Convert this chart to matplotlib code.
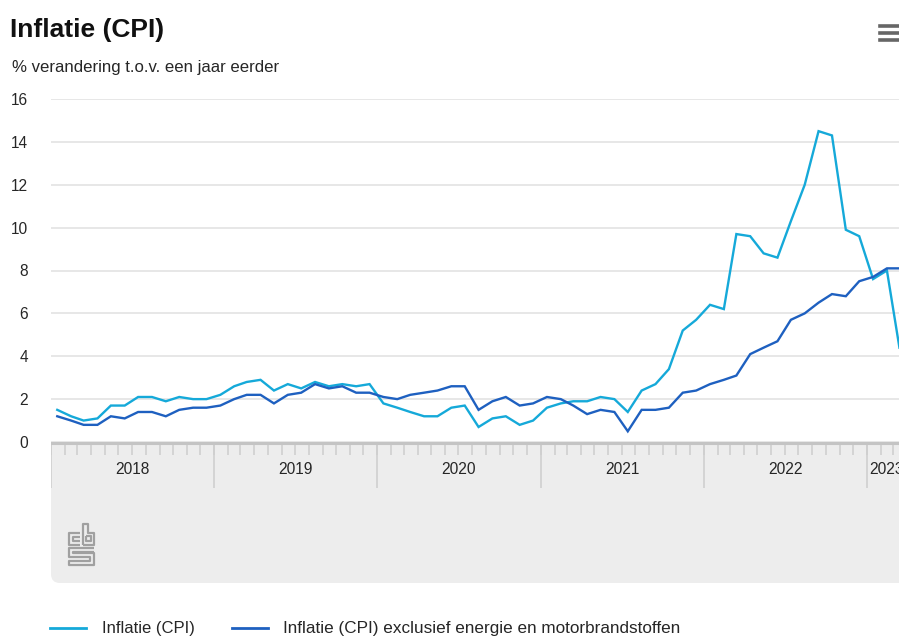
import matplotlib
matplotlib.use("Agg")
import matplotlib.pyplot as plt
from matplotlib.transforms import Affine2D
from matplotlib.patches import FancyBboxPatch, Rectangle
from matplotlib.lines import Line2D
import pandas as pd
import datetime as dt

plt.rcParams['font.family'] = ['Liberation Sans', 'DejaVu Sans']

# ---- data ----
months = pd.date_range("2018-01-01", periods=63, freq="MS") + pd.Timedelta(days=14)
cpi = [1.5, 1.2, 1.0, 1.1, 1.7, 1.7, 2.1, 2.1, 1.9, 2.1, 2.0, 2.0,
       2.2, 2.6, 2.8, 2.9, 2.4, 2.7, 2.5, 2.8, 2.6, 2.7, 2.6, 2.7,
       1.8, 1.6, 1.4, 1.2, 1.2, 1.6, 1.7, 0.7, 1.1, 1.2, 0.8, 1.0,
       1.6, 1.8, 1.9, 1.9, 2.1, 2.0, 1.4, 2.4, 2.7, 3.4, 5.2, 5.7,
       6.4, 6.2, 9.7, 9.6, 8.8, 8.6, 10.3, 12.0, 14.5, 14.3, 9.9, 9.6,
       7.6, 8.0, 4.4]
core = [1.2, 1.0, 0.8, 0.8, 1.2, 1.1, 1.4, 1.4, 1.2, 1.5, 1.6, 1.6,
        1.7, 2.0, 2.2, 2.2, 1.8, 2.2, 2.3, 2.7, 2.5, 2.6, 2.3, 2.3,
        2.1, 2.0, 2.2, 2.3, 2.4, 2.6, 2.6, 1.5, 1.9, 2.1, 1.7, 1.8,
        2.1, 2.0, 1.7, 1.3, 1.5, 1.4, 0.5, 1.5, 1.5, 1.6, 2.3, 2.4,
        2.7, 2.9, 3.1, 4.1, 4.4, 4.7, 5.7, 6.0, 6.5, 6.9, 6.8, 7.5,
        7.7, 8.1, 8.1]
years = [2018, 2019, 2020, 2021, 2022, 2023]
yticks = [0, 2, 4, 6, 8, 10, 12, 14, 16]
series_names = ["Inflatie (CPI)", "Inflatie (CPI) exclusief energie en motorbrandstoffen"]
title = "Inflatie (CPI)"
subtitle = "% verandering t.o.v. een jaar eerder"

# ---- styling ----
C_LIGHT = "#15a9d9"
C_DARK = "#1e60c0"
W, H = 899, 637
fig = plt.figure(figsize=(W / 100, H / 100), dpi=100)
T = Affine2D().scale(1 / 100, -1 / 100).translate(0, H / 100) + fig.dpi_scale_trans

X0, YTOP, YZERO, YBOT = 51, 99, 442, 583
xmin = dt.datetime(2018, 1, 1)
xmax = xmin + dt.timedelta(days=(W - X0) / 13.6 * 30.44)

ax = fig.add_axes([X0 / W, 1 - YZERO / H, (W - X0) / W, (YZERO - YTOP) / H])
ax.set_xlim(xmin, xmax)
ax.set_ylim(0, 16)
for s in ax.spines.values():
    s.set_visible(False)
ax.set_yticks(yticks)
ax.set_yticklabels([str(v) for v in yticks])
ax.tick_params(axis='y', length=0, pad=16.5, labelsize=11.2, labelcolor="#262626")
ax.tick_params(axis='x', length=0, labelbottom=False)
ax.grid(axis='y', color="#e3e3e3", lw=1.2)
ax.set_axisbelow(True)

ax.plot(months, cpi, color=C_LIGHT, lw=1.7, solid_joinstyle='miter', zorder=3)
ax.plot(months, core, color=C_DARK, lw=1.7, solid_joinstyle='miter', zorder=4)

# ---- gray x-axis band ----
band = FancyBboxPatch((X0, YZERO), W - X0 + 30, YBOT - YZERO,
                      boxstyle="round,pad=0,rounding_size=9", transform=T,
                      fc="#ededed", ec="none", zorder=-1)
fig.patches.append(band)
fig.patches.append(Rectangle((X0, YZERO), 30, 30, transform=T, fc="#ededed", ec="none", zorder=-1))

bx = fig.add_axes([X0 / W, 1 - YBOT / H, (W - X0) / W, (YBOT - YZERO) / H])
bx.set_xlim(xmin, xmax)
bx.set_ylim(YBOT, YZERO)
bx.axis('off')
bx.patch.set_visible(False)

month_starts = pd.date_range("2018-01-01", "2023-03-01", freq="MS")
bx.vlines(month_starts, YZERO, 455, color="#cfcfcf", lw=1.2)
year_starts = [dt.datetime(y, 1, 1) for y in years]
bx.vlines(year_starts, YZERO, 488, color="#cfcfcf", lw=1.2)
bx.axhline(YZERO + 0.5, color="#c4c4c4", lw=2.2)
for y in years[:-1]:
    bx.text(dt.datetime(y, 7, 2), 470, str(y), ha='center', va='center', fontsize=11.2, color="#262626")
bx.text(dt.datetime(years[-1], 1, 1) + dt.timedelta(days=5), 470, str(years[-1]), ha='left',
        va='center', fontsize=11.2, color="#262626")

# ---- cbs logo (simplified) ----
lg = dict(color="#a0a0a0", lw=1.6, transform=T, solid_capstyle='butt')
logo_paths = [
    [(80, 533), (69, 533), (69, 545), (80, 545)],
    [(80, 537), (73, 537), (73, 541), (80, 541)],
    [(83, 545), (83, 524), (88, 524), (88, 533), (94, 533), (94, 545), (83, 545)],
    [(86, 536), (91, 536), (91, 541), (86, 541), (86, 536)],
    [(94, 548), (69, 548), (69, 557), (90, 557), (90, 561), (69, 561), (69, 565), (94, 565), (94, 553), (73, 553), (73, 552), (94, 552)],
]
for p in logo_paths:
    xs, ys = zip(*p)
    fig.lines.append(Line2D(xs, ys, **lg))

# ---- hamburger icon ----
for yy in (26, 33, 40):
    fig.lines.append(Line2D([880, 899], [yy, yy], color="#666666", lw=2.6, transform=T))

# ---- titles ----
fig.text(10, 37, title, transform=T, fontsize=19, fontweight='bold', color="#111111", va='baseline')
fig.text(12, 72, subtitle, transform=T, fontsize=12.1, color="#262626", va='baseline')

# ---- legend ----
fig.lines.append(Line2D([50, 86], [628, 628], color=C_LIGHT, lw=2, transform=T))
fig.text(102, 628, series_names[0], transform=T, fontsize=12, color="#262626", va='center')
fig.lines.append(Line2D([232, 268], [628, 628], color=C_DARK, lw=2, transform=T))
fig.text(283, 628, series_names[1], transform=T, fontsize=12.3, color="#262626", va='center')

fig.savefig("out.png", dpi=100)
